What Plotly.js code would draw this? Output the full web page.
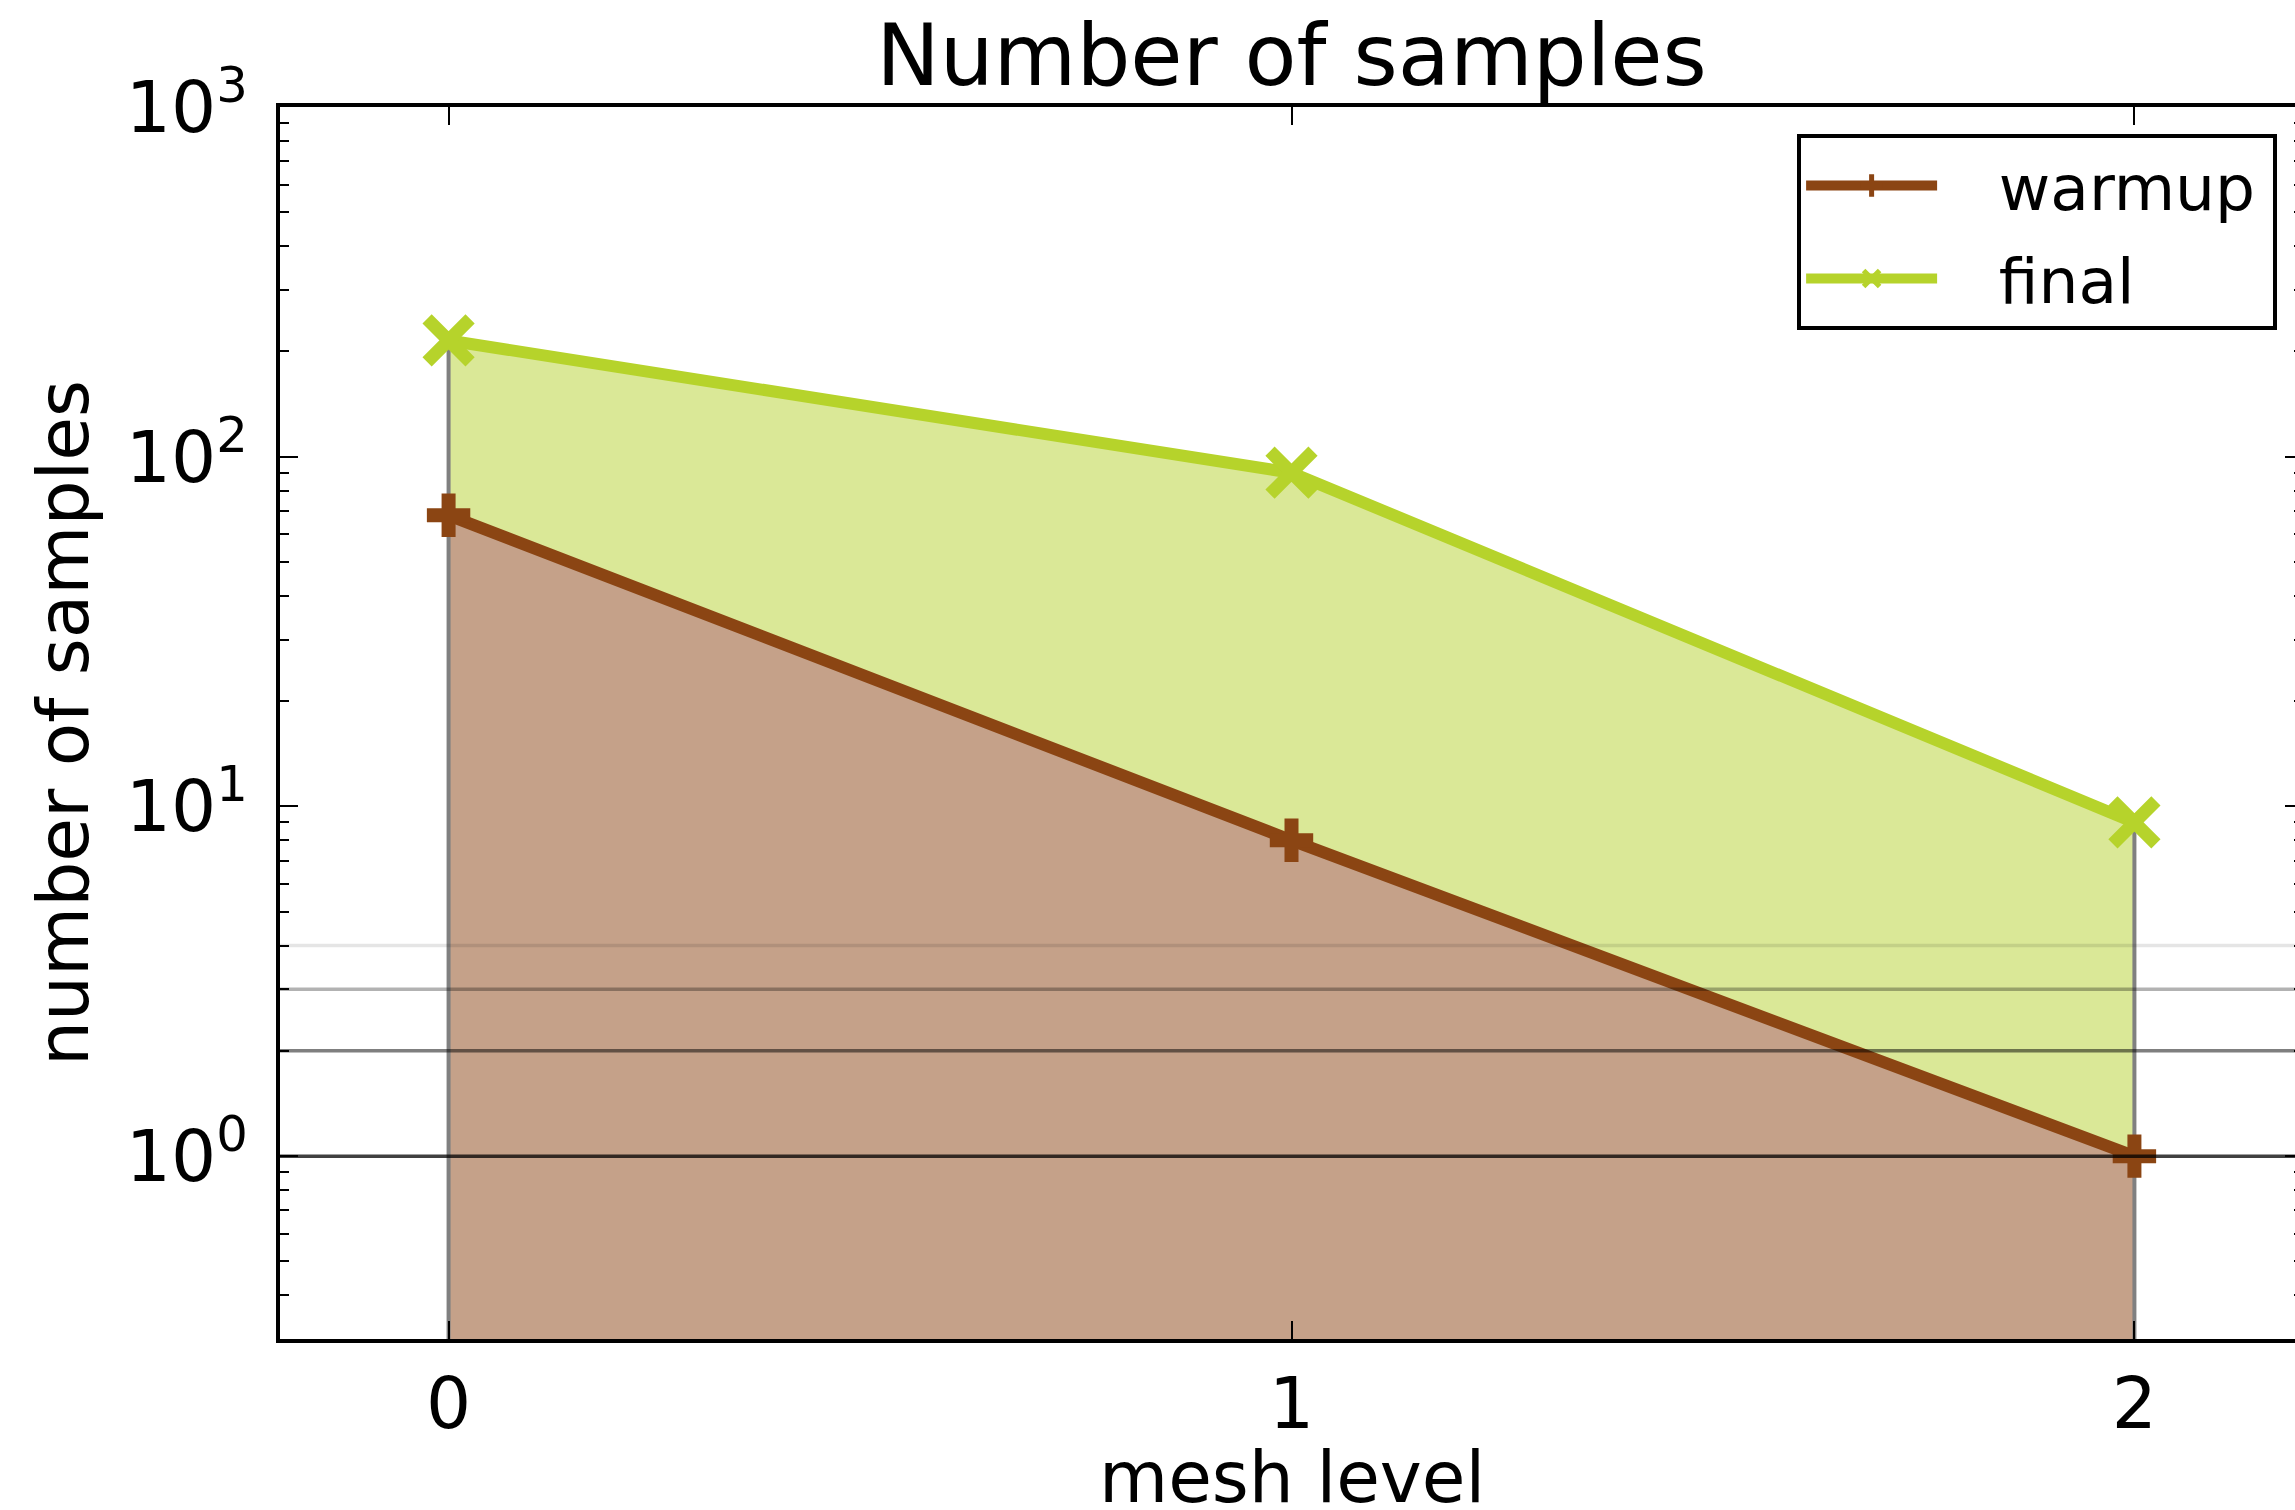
<!DOCTYPE html>
<html><head><meta charset="utf-8">
<script src="https://cdn.plot.ly/plotly-3.0.1.min.js"></script>
<style>html,body{margin:0;padding:0;overflow:hidden;background:#fff;} #chart{width:2323px;height:1510px;}</style>
</head><body><div id="chart"></div>
<script>
// ---- data ----
const meshLevels = [0, 1, 2];
const warmupSamples = [68, 8, 1];
const finalSamples = [215, 90, 9];
const seriesNames = ['warmup', 'final'];
const xTickVals = [0, 1, 2];
const xTickText = ['0', '1', '2'];
const yTickVals = [1, 10, 100, 1000];
const yTickText = ['10<sup>0</sup>', '10<sup>1</sup>', '10<sup>2</sup>', '10<sup>3</sup>'];
const refLevels = [1, 2, 3, 4];
const refAlphas = [0.75, 0.5, 0.3, 0.1];
const yFloor = 0.3, yCeil = 1000;
const xMin = -0.2, xMax = 2.2;

// ---- styles ----
const FONT = 'DejaVu Sans, sans-serif';
const brown = '#8b4513', brownFill = '#c5a189';
const green = '#b6d32b', greenFill = '#dae897';
const last = meshLevels.length - 1;
const pad = s => '\u2002\u2009\u2009' + s + '\u2009';

const traces = [
  {x: meshLevels, y: warmupSamples, mode: 'none', fill: 'tozeroy', fillcolor: brownFill, showlegend: false, hoverinfo: 'skip'},
  {x: meshLevels, y: finalSamples, mode: 'none', fill: 'tonexty', fillcolor: greenFill, showlegend: false, hoverinfo: 'skip'},
  {x: [meshLevels[0], meshLevels[0], null, meshLevels[last], meshLevels[last]],
   y: [yFloor, finalSamples[0], null, yFloor, finalSamples[last]],
   mode: 'lines', line: {color: '#808080', width: 4}, showlegend: false, hoverinfo: 'skip'},
  {x: meshLevels, y: warmupSamples, name: pad(seriesNames[0]), legendgroup: 'a', mode: 'lines+markers',
   line: {color: brown, width: 12},
   marker: {symbol: 'cross-thin', size: 31, color: brown, line: {color: brown, width: 14}}},
  {x: meshLevels, y: finalSamples, name: pad(seriesNames[1]), legendgroup: 'b', mode: 'lines+markers',
   line: {color: green, width: 12},
   marker: {symbol: 'x-thin', size: 43, color: green, line: {color: green, width: 13}}}
];

const shapes = refLevels.map((v, i) => ({
  type: 'line', xref: 'paper', x0: 0, x1: 1, yref: 'y', y0: v, y1: v, layer: 'above',
  line: {color: 'rgba(0,0,0,' + refAlphas[i] + ')', width: 3.5}
}));

const layout = {
  width: 2323, height: 1510,
  margin: {l: 280, r: 20, t: 107, b: 171},
  paper_bgcolor: '#fff', plot_bgcolor: '#fff',
  font: {family: FONT, color: '#000', size: 71},
  title: {text: 'Number of samples', font: {family: FONT, size: 85, color: '#000'},
          x: 0.5, xref: 'paper', xanchor: 'center', y: 0.9634, yref: 'container', yanchor: 'middle'},
  showlegend: true,
  legend: {x: 0.9872, xanchor: 'right', y: 0.978, yanchor: 'top',
           traceorder: 'grouped', tracegroupgap: 8,
           bgcolor: '#fff', bordercolor: '#000', borderwidth: 4,
           font: {family: FONT, size: 63, color: '#000'}, itemwidth: 131},
  xaxis: {range: [xMin, xMax], tickmode: 'array', tickvals: xTickVals, ticktext: xTickText,
          ticks: 'inside', ticklen: 18, tickwidth: 2, tickcolor: '#000',
          showline: true, linewidth: 4, linecolor: '#000', mirror: 'allticks',
          showgrid: false, zeroline: false, tickfont: {family: FONT, size: 71}},
  yaxis: {type: 'log', range: [Math.log10(yFloor), Math.log10(yCeil)],
          tickmode: 'array', tickvals: yTickVals, ticktext: yTickText,
          ticks: 'inside', ticklen: 18, tickwidth: 2, tickcolor: '#000', ticklabelstandoff: 14,
          minor: {ticks: 'inside', ticklen: 9, tickwidth: 2, tickcolor: '#000', dtick: 'D1', showgrid: false},
          showline: true, linewidth: 4, linecolor: '#000', mirror: 'allticks',
          showgrid: false, zeroline: false, tickfont: {family: FONT, size: 71},
          title: {text: 'number of samples', font: {family: FONT, size: 71}, standoff: 15}},
  annotations: [{text: 'mesh level', xref: 'paper', x: 0.5, xanchor: 'center',
                 yref: 'paper', y: 0, yanchor: 'top', yshift: -95, showarrow: false,
                 font: {family: FONT, size: 71, color: '#000'}}],
  shapes: shapes
};

Plotly.newPlot('chart', traces, layout, {staticPlot: true, displayModeBar: false});
</script></body></html>
